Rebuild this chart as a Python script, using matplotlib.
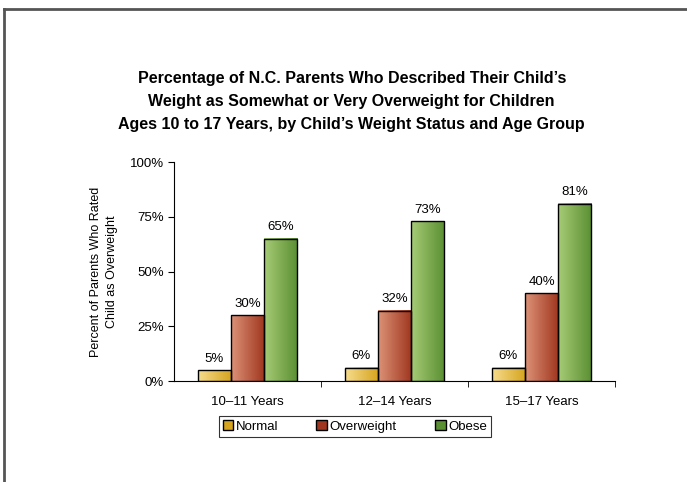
import numpy as np
import matplotlib
matplotlib.use('Agg')
import matplotlib.pyplot as plt
from matplotlib.colors import LinearSegmentedColormap
from matplotlib.patches import Patch
from matplotlib.lines import Line2D

plt.rcParams['font.family'] = ['Liberation Sans', 'DejaVu Sans']

age_groups = ["10\u201311 Years", "12\u201314 Years", "15\u201317 Years"]
normal = [5, 6, 6]
overweight = [30, 32, 40]
obese = [65, 73, 81]

series = [("Normal", normal, "#f6dc8c", "#d6a41e"),
          ("Overweight", overweight, "#dc9277", "#a0361f"),
          ("Obese", obese, "#a6cb76", "#5b8f33")]

fig = plt.figure(figsize=(6.87, 4.82), dpi=100)
ax = fig.add_axes([0.2533, 0.2095, 0.6419, 0.4544])

x = np.arange(len(age_groups))
width = 0.225
grad = np.linspace(0, 1, 64).reshape(1, -1)

handles = []
for i, (name, vals, light, dark) in enumerate(series):
    cmap = LinearSegmentedColormap.from_list(name, [light, dark])
    pos = x + (i - 1) * width
    bars = ax.bar(pos, vals, width, fill=False, edgecolor="black", linewidth=1.0, zorder=3)
    for b, v in zip(bars, vals):
        x0 = b.get_x()
        ax.imshow(grad, cmap=cmap, aspect="auto", extent=(x0, x0 + width, 0, v),
                  zorder=2, interpolation="bilinear")
        ax.text(b.get_x() + width / 2, v + 2.5, f"{v}%", ha="center", va="bottom", fontsize=9.5)
    handles.append(Patch(facecolor=dark, edgecolor="black", label=name))

ax.set_xlim(-0.5, 2.5)
ax.set_ylim(0, 100)
ax.set_yticks([0, 25, 50, 75, 100])
ax.set_yticklabels(["0%", "25%", "50%", "75%", "100%"], fontsize=9.5)
ax.set_xticks(x)
ax.set_xticklabels(age_groups, fontsize=9.5)
ax.set_xticks([0.5, 1.5, 2.5], minor=True)
ax.tick_params(axis="x", which="major", length=0, pad=11)
ax.tick_params(axis="x", which="minor", length=4, direction="out")
ax.tick_params(axis="y", length=4, direction="out")
for s in ["top", "right"]:
    ax.spines[s].set_visible(False)
ax.set_ylabel("Percent of Parents Who Rated\nChild as Overweight", fontsize=9,
              labelpad=8, linespacing=1.45)

leg = ax.legend(handles=handles, ncol=3, loc="upper center", bbox_to_anchor=(0.41, -0.13),
                frameon=True, fancybox=False, edgecolor="black", fontsize=9.5,
                handlelength=0.8, handleheight=0.8, handletextpad=0.2, columnspacing=2.9,
                borderpad=0.3)
leg.get_frame().set_linewidth(0.8)

fig.text(0.512, 0.79, "Percentage of N.C. Parents Who Described Their Child\u2019s\n"
         "Weight as Somewhat or Very Overweight for Children\n"
         "Ages 10 to 17 Years, by Child\u2019s Weight Status and Age Group",
         ha="center", va="center", fontsize=11.5, fontweight="bold", linespacing=1.65)

# frame lines at the top and left of the picture
fig.add_artist(Line2D([0.0065, 1.0], [0.982, 0.982], color="#555555", linewidth=2))
fig.add_artist(Line2D([0.0065, 0.0065], [0.0, 0.982], color="#555555", linewidth=2))

fig.savefig("out.png", dpi=100)
